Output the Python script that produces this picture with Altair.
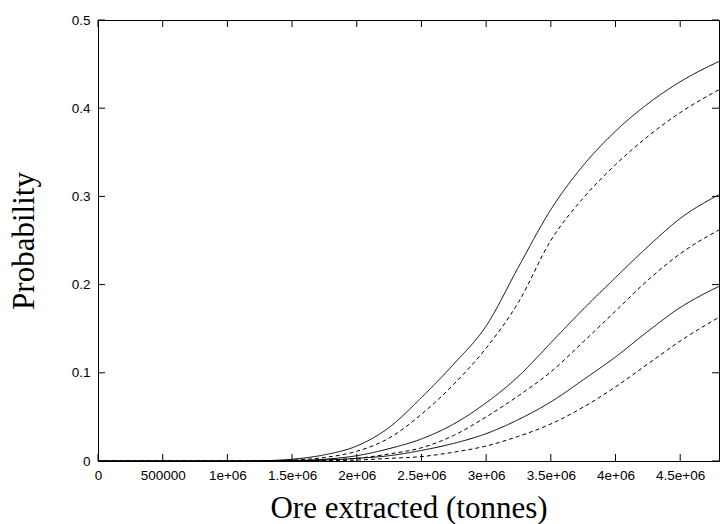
import altair as alt
import pandas as pd

# ---- data ----
x_vals = [0, 0.5e6, 1.0e6, 1.25e6, 1.5e6, 1.75e6, 2.0e6, 2.25e6, 2.5e6, 2.75e6,
          3.0e6, 3.25e6, 3.5e6, 3.75e6, 4.0e6, 4.25e6, 4.5e6, 4.8e6]

s1 = [0, 0, 0, 0.0003, 0.002, 0.007, 0.017, 0.038, 0.072, 0.110, 0.153, 0.220, 0.285, 0.335, 0.374, 0.405, 0.430, 0.453]
d1 = [0, 0, 0, 0.0001, 0.001, 0.004, 0.011, 0.026, 0.053, 0.087, 0.128, 0.180, 0.250, 0.298, 0.336, 0.368, 0.395, 0.421]
s2 = [0, 0, 0, 0, 0.0005, 0.002, 0.006, 0.014, 0.025, 0.042, 0.066, 0.096, 0.134, 0.172, 0.208, 0.243, 0.275, 0.302]
d2 = [0, 0, 0, 0, 0.0002, 0.001, 0.003, 0.008, 0.015, 0.029, 0.050, 0.074, 0.101, 0.135, 0.170, 0.205, 0.235, 0.262]
s3 = [0, 0, 0, 0, 0.0002, 0.001, 0.003, 0.006, 0.012, 0.020, 0.031, 0.047, 0.067, 0.092, 0.118, 0.147, 0.174, 0.198]
d3 = [0, 0, 0, 0, 0, 0.0003, 0.001, 0.003, 0.005, 0.010, 0.017, 0.028, 0.042, 0.061, 0.084, 0.110, 0.136, 0.163]

series = {"s1": s1, "d1": d1, "s2": s2, "d2": d2, "s3": s3, "d3": d3}
styles = {"s1": "solid", "d1": "dashed", "s2": "solid", "d2": "dashed", "s3": "solid", "d3": "dashed"}

x_ticks = [0, 500000, 1000000, 1500000, 2000000, 2500000, 3000000, 3500000, 4000000, 4500000]
x_tick_labels = ["0", "500000", "1e+06", "1.5e+06", "2e+06", "2.5e+06", "3e+06", "3.5e+06", "4e+06", "4.5e+06"]
y_ticks = [0, 0.1, 0.2, 0.3, 0.4, 0.5]
y_tick_labels = ["0", "0.1", "0.2", "0.3", "0.4", "0.5"]

rows = []
for name, vals in series.items():
    for x, y in zip(x_vals, vals):
        rows.append({"x": x, "p": y, "series": name, "style": styles[name]})
df = pd.DataFrame(rows)

xt = pd.DataFrame({"x": x_ticks})
yt = pd.DataFrame({"p": y_ticks})

W, H = 621, 441
TL = 7


def label_expr(vals, labels):
    expr = "''"
    for v, l in reversed(list(zip(vals, labels))):
        expr = f"abs(datum.value - {v}) < 1e-9 ? '{l}' : ({expr})"
    return expr


xscale = alt.Scale(domain=[0, 4.8e6], nice=False, zero=False)
yscale = alt.Scale(domain=[0, 0.5], nice=False, zero=False)

axis_common = dict(
    domain=False, ticks=False, grid=False,
    labelFont="Liberation Sans", labelFontSize=13.5, labelColor="black",
    titleFont="Liberation Serif", titleFontSize=31, titleFontWeight="normal",
    titleColor="black",
)

x_axis = alt.Axis(
    values=x_ticks, labelExpr=label_expr(x_ticks, x_tick_labels),
    labelPadding=7, title="Ore extracted (tonnes)",
    titleX=W / 2, titleY=56, titleAlign="center", titleBaseline="alphabetic",
    labelFlush=False, labelOverlap=False, **axis_common,
)
y_axis = alt.Axis(
    values=y_ticks, labelExpr=label_expr(y_ticks, y_tick_labels),
    labelPadding=8, title="Probability",
    titleX=-65, titleY=H / 2, titleAngle=-90, titleAlign="center",
    titleBaseline="alphabetic", labelFlush=False, labelOverlap=False, **axis_common,
)

X = alt.X("x:Q", scale=xscale, axis=x_axis)
Y = alt.Y("p:Q", scale=yscale, axis=y_axis)

lines = alt.Chart(df).mark_line(color="black", strokeWidth=1, interpolate="monotone").encode(
    x=X, y=Y,
    detail="series:N",
    strokeDash=alt.StrokeDash(
        "style:N",
        scale=alt.Scale(domain=["solid", "dashed"], range=[[1, 0], [4, 3]]),
        legend=None,
    ),
)

rule_kw = dict(color="black", strokeWidth=1)
bottom_ticks = alt.Chart(xt).mark_rule(**rule_kw).encode(
    x=X, y=alt.value(H), y2=alt.value(H - TL))
top_ticks = alt.Chart(xt).mark_rule(**rule_kw).encode(
    x=X, y=alt.value(0), y2=alt.value(TL))
left_ticks = alt.Chart(yt).mark_rule(**rule_kw).encode(
    y=Y, x=alt.value(0), x2=alt.value(TL))
right_ticks = alt.Chart(yt).mark_rule(**rule_kw).encode(
    y=Y, x=alt.value(W - TL), x2=alt.value(W))

chart = alt.layer(lines, bottom_ticks, top_ticks, left_ticks, right_ticks).properties(
    width=W, height=H,
    autosize=alt.AutoSizeParams(type="none"),
    padding={"left": 98, "top": 20, "right": 3, "bottom": 63},
    background="white",
).configure_view(stroke="black", strokeWidth=1)

chart.save("out.html", embed_options={"renderer": "svg", "actions": False})
